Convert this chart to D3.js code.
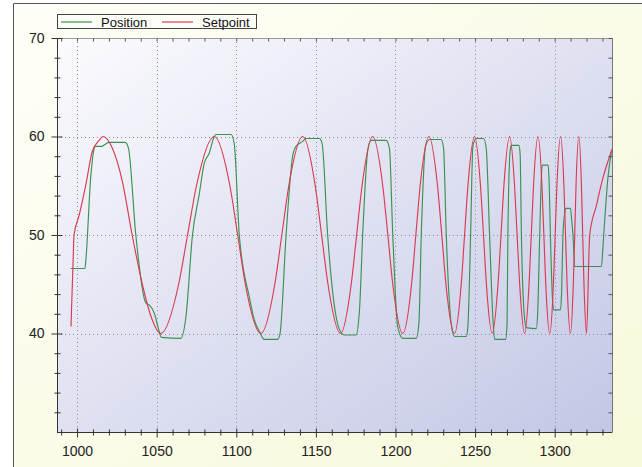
<!DOCTYPE html>
<html><head><meta charset="utf-8">
<script src="https://cdn.jsdelivr.net/npm/d3@7/dist/d3.min.js"></script>
<style>html,body{margin:0;padding:0;background:#fff;}svg{display:block;}</style>
</head><body>
<svg id="chart" width="642" height="467"></svg>
<script>
const xMajorTicks = [1000, 1050, 1100, 1150, 1200, 1250, 1300];
const xMinorTicks = [990, 1010, 1020, 1030, 1040, 1060, 1070, 1080, 1090, 1110, 1120, 1130, 1140, 1160, 1170, 1180, 1190, 1210, 1220, 1230, 1240, 1260, 1270, 1280, 1290, 1310, 1320, 1330];
const yMajorTicks = [40, 50, 60, 70];
const yMinorTicks = [32, 34, 36, 38, 42, 44, 46, 48, 52, 54, 56, 58, 62, 64, 66, 68];
const seriesNames = ["Position", "Setpoint"];

const positionData = [
  [996.0,46.6],[1005.0,46.6],[1005.6,47.6],[1008.6,55.9],[1010.5,58.6],[1011.3,59.0],[1015.5,59.0],[1017.5,59.2],[1020.1,59.4],[1030.2,59.4],[1032.3,58.8],[1036.9,50],[1043.2,43.1],[1045.3,42.9],[1048.4,42.1],[1051.1,40.5],[1053.0,39.6],[1065.2,39.5],[1068.4,41.7],[1072.5,50],[1076.7,54.1],[1079.9,57.3],[1083.0,58.3],[1086.2,60.0],[1087.2,60.2],[1096.7,60.2],[1098.7,59.3],[1101.9,50],[1108.2,43.7],[1111.3,41.4],[1114.5,40.2],[1117.6,39.4],[1126.0,39.4],[1127.5,40.0],[1131.3,50],[1135.4,58.0],[1137.5,59.0],[1141.7,59.5],[1143.8,59.8],[1152.2,59.8],[1153.9,59.3],[1157.4,50],[1162.7,41.7],[1165.8,40.1],[1167.9,39.85],[1175.2,39.85],[1177.4,42.4],[1179.4,50],[1182.6,58.6],[1184.7,59.6],[1194.1,59.6],[1196.2,58.8],[1198.3,50],[1201.4,40.7],[1204.6,39.5],[1213.0,39.5],[1214.7,41.0],[1216.2,50],[1218.9,59.0],[1221.4,59.7],[1228.7,59.7],[1230.2,58.8],[1231.9,50],[1235.0,41.0],[1237.1,39.7],[1244.5,39.7],[1245.5,40.8],[1247.2,50],[1248.6,59.0],[1250.8,59.8],[1255.3,59.8],[1257.0,58.8],[1259.1,50],[1261.2,41.5],[1262.3,39.4],[1269.2,39.4],[1270.1,41.0],[1270.6,50],[1272.0,58.5],[1272.7,59.1],[1277.5,59.1],[1278.3,58.2],[1279.1,50],[1281.1,41.5],[1282.2,40.6],[1288.5,40.5],[1289.3,42.0],[1290.6,50],[1291.8,56.5],[1292.3,57.1],[1295.8,57.1],[1296.5,55.5],[1297.3,50],[1298.7,43.3],[1299.4,42.4],[1303.6,42.4],[1304.3,44.0],[1305.2,50],[1306.3,52.2],[1306.9,52.7],[1309.9,52.7],[1310.7,51.5],[1311.5,50],[1312.6,46.8],[1329.4,46.8],[1330.2,48.5],[1330.8,50],[1333.5,55.9],[1335.7,58.5]
];

const setpointData = [
  [996.2,40.7],[997.5,47.3],[998.1,50],[1001.3,52.0],[1005.5,55.1],[1009.6,58.5],[1013.8,59.6],[1016.4,60.0],[1022.2,58.8],[1028.5,55.4],[1034.6,50],[1041.0,45.0],[1046.5,41.7],[1052.6,40.0],
  [1063.8,45],[1069.4,50],[1075.0,55],[1086.2,60],
  [1096.0,55],[1100.9,50],[1105.7,45],[1115.5,40],
  [1124.2,45],[1128.6,50],[1133.0,55],[1141.7,60],
  [1149.6,55],[1153.6,50],[1157.6,45],[1165.5,40],
  [1172.2,45],[1175.6,50],[1179.0,55],[1185.7,60],
  [1192.0,55],[1195.2,50],[1198.3,45],[1204.6,40],
  [1210.1,45],[1212.8,50],[1215.5,55],[1221.0,60],
  [1226.4,55],[1229.1,50],[1231.7,45],[1237.1,40],
  [1241.3,45],[1243.4,50],[1245.5,55],[1249.7,60],
  [1253.4,55],[1255.3,50],[1257.1,45],[1260.8,40],
  [1264.4,45],[1266.3,50],[1268.1,55],[1271.7,60],
  [1274.8,55],[1276.4,50],[1278.0,45],[1281.1,40],
  [1283.9,45],[1285.3,50],[1286.7,55],[1289.5,60],
  [1292.0,55],[1293.2,50],[1294.4,45],[1296.9,40],
  [1299.2,45],[1300.3,50],[1301.4,55],[1303.7,60],
  [1305.8,55],[1306.8,50],[1307.8,45],[1309.9,40],
  [1311.7,45],[1312.6,50],[1313.4,55],[1315.2,60],
  [1316.8,55],[1317.6,50],[1318.4,45],[1320.0,40],
  [1322.0,50],[1326.2,53.0],[1330.3,55.8],[1334.5,58.0],[1336.5,58.9]
];

const W = 642, H = 467;
const plot = {left: 57, right: 612, top: 38, bottom: 432};
const colors = {Position: "#3b9150", Setpoint: "#d93a50"};

const svg = d3.select("#chart");
const defs = svg.append("defs");
const bg = defs.append("linearGradient").attr("id","bgGrad").attr("x1",0).attr("y1",0).attr("x2",1).attr("y2",1);
bg.append("stop").attr("offset","0%").attr("stop-color","#fefef7");
bg.append("stop").attr("offset","100%").attr("stop-color","#f8f8da");
const pg = defs.append("linearGradient").attr("id","plotGrad").attr("x1",0).attr("y1",0).attr("x2",1).attr("y2",1);
pg.append("stop").attr("offset","0%").attr("stop-color","#fbfbfe");
pg.append("stop").attr("offset","100%").attr("stop-color","#c3c7e5");
defs.append("clipPath").attr("id","clip").append("rect")
  .attr("x",plot.left).attr("y",plot.top).attr("width",plot.right-plot.left).attr("height",plot.bottom-plot.top);

svg.append("rect").attr("x",13).attr("y",3).attr("width",W).attr("height",H).attr("fill","url(#bgGrad)");
svg.append("path").attr("d","M13.5,"+H+"V3.5H"+W).attr("fill","none").attr("stroke","#555").attr("stroke-width",1);

const x = d3.scaleLinear().domain([987.4, 1336]).range([plot.left, plot.right]);
const y = d3.scaleLinear().domain([30, 70]).range([plot.bottom, plot.top]);

svg.append("rect").attr("x",plot.left).attr("y",plot.top).attr("width",plot.right-plot.left).attr("height",plot.bottom-plot.top).attr("fill","url(#plotGrad)");

// grid
const grid = svg.append("g").attr("stroke","#8c8c98").attr("stroke-width",1).attr("stroke-dasharray","1,3");
grid.selectAll(".gx").data(xMajorTicks).join("line")
  .attr("x1",d=>Math.round(x(d))+0.5).attr("x2",d=>Math.round(x(d))+0.5).attr("y1",plot.top).attr("y2",plot.bottom);
grid.selectAll(".gy").data(yMajorTicks).join("line")
  .attr("y1",d=>Math.round(y(d))+0.5).attr("y2",d=>Math.round(y(d))+0.5).attr("x1",plot.left).attr("x2",plot.right);

// lines
const line = d3.line().x(d=>x(d[0])).y(d=>y(d[1])).curve(d3.curveMonotoneX);
const lines = svg.append("g").attr("clip-path","url(#clip)").attr("fill","none").attr("stroke-width",1.15);
lines.append("path").datum(positionData).attr("d",line).attr("stroke",colors.Position);
lines.append("path").datum(setpointData).attr("d",line).attr("stroke",colors.Setpoint);

// borders
svg.append("line").attr("x1",plot.left+0.5).attr("x2",plot.left+0.5).attr("y1",plot.top).attr("y2",plot.bottom+0.5).attr("stroke","#333");
svg.append("line").attr("x1",plot.left).attr("x2",plot.right).attr("y1",plot.bottom+0.5).attr("y2",plot.bottom+0.5).attr("stroke","#333");
svg.append("line").attr("x1",plot.right+0.5).attr("x2",plot.right+0.5).attr("y1",plot.top).attr("y2",plot.bottom+0.5).attr("stroke","#777");
svg.append("line").attr("x1",plot.left).attr("x2",plot.right+0.5).attr("y1",plot.top+0.5).attr("y2",plot.top+0.5).attr("stroke","#999");

const font = "'Liberation Sans', Arial, sans-serif";
function styleAxis(g){ g.select(".domain").remove(); g.selectAll(".tick line").attr("stroke","#333"); g.selectAll("text").attr("font-family",font).attr("font-size",14).attr("fill","#222"); }

// left axis
svg.append("g").attr("transform",`translate(${plot.left+0.5},0)`)
  .call(d3.axisLeft(y).tickValues(yMajorTicks).tickSize(6).tickPadding(7).tickFormat(d3.format("d")))
  .call(styleAxis).call(g=>g.selectAll(".tick line").attr("x1",5));
svg.append("g").attr("transform",`translate(${plot.left+0.5},0)`)
  .call(d3.axisLeft(y).tickValues(yMinorTicks).tickSize(3).tickFormat(""))
  .call(styleAxis).call(g=>g.selectAll(".tick line").attr("x1",3));
// right axis (inward)
svg.append("g").attr("transform",`translate(${plot.right+0.5},0)`)
  .call(d3.axisLeft(y).tickValues(yMinorTicks.concat(yMajorTicks)).tickSize(4).tickFormat(""))
  .call(styleAxis).call(g=>g.selectAll(".tick line").attr("stroke","#555"));
// bottom axis
svg.append("g").attr("transform",`translate(0,${plot.bottom+0.5})`)
  .call(d3.axisBottom(x).tickValues(xMajorTicks).tickSize(5).tickPadding(9).tickFormat(d3.format("d")))
  .call(styleAxis).call(g=>g.selectAll(".tick line").attr("y1",-4));
svg.append("g").attr("transform",`translate(0,${plot.bottom+0.5})`)
  .call(d3.axisBottom(x).tickValues(xMinorTicks).tickSize(3).tickFormat(""))
  .call(styleAxis).call(g=>g.selectAll(".tick line").attr("y1",-3));
// top axis (inward)
svg.append("g").attr("transform",`translate(0,${plot.top+0.5})`)
  .call(d3.axisBottom(x).tickValues(xMinorTicks.concat(xMajorTicks)).tickSize(3).tickFormat(""))
  .call(styleAxis).call(g=>g.selectAll(".tick line").attr("stroke","#555"));

// legend
const lg = svg.append("g");
lg.append("rect").attr("x",57.5).attr("y",14.5).attr("width",199).attr("height",14).attr("fill","#fefef8").attr("stroke","#444");
const legX = [61, 162];
seriesNames.forEach((name,i)=>{
  lg.append("line").attr("x1",legX[i]).attr("x2",legX[i]+31).attr("y1",22).attr("y2",22).attr("stroke",colors[name]).attr("stroke-width",1.2);
  lg.append("text").attr("x",legX[i]+40).attr("y",26.5).attr("font-family",font).attr("font-size",13).attr("fill","#111").text(name);
});
</script>
</body></html>
